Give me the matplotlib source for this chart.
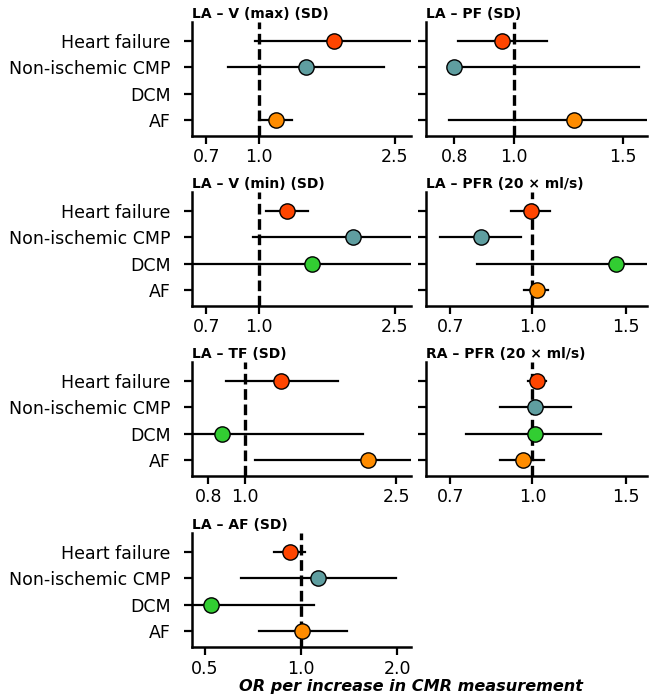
import numpy as np
import matplotlib
matplotlib.use("Agg")
import matplotlib.pyplot as plt
from matplotlib.ticker import FixedLocator, FixedFormatter, NullLocator

nan = np.nan

# --- データ ---
categories = ["Heart failure", "Non-ischemic CMP", "DCM", "AF"]
colors = ["#FF4500", "#5F9EA0", "#32CD32", "#FF8C00"]

titles = ["LA – V (max) (SD)", "LA – PF (SD)",
          "LA – V (min) (SD)", "LA – PFR (20 × ml/s)",
          "LA – TF (SD)", "RA – PFR (20 × ml/s)",
          "LA – AF (SD)"]

# OR, 下限, 上限 (HF, NICM, DCM, AF)
or_vmax = [1.66, 1.37, nan, 1.12]
lo_vmax = [0.97, 0.81, nan, 1.00]
hi_vmax = [3.20, 2.33, nan, 1.25]

or_pf = [0.955, 0.80, nan, 1.25]
lo_pf = [0.81, 0.79, nan, 0.785]
hi_pf = [1.13, 1.59, nan, 1.90]

or_vmin = [1.21, 1.89, 1.43, nan]
lo_vmin = [1.05, 0.96, 0.50, nan]
hi_vmin = [1.39, 3.50, 3.50, nan]

or_la_pfr = [0.995, 0.80, 1.44, 1.02]
lo_la_pfr = [0.91, 0.67, 0.785, 0.966]
hi_la_pfr = [1.08, 0.95, 2.00, 1.07]

or_tf = [1.24, nan, 0.87, 2.11]
lo_tf = [0.89, nan, 0.60, 1.06]
hi_tf = [1.75, nan, 2.04, 4.00]

or_ra_pfr = [1.02, 1.01, 1.01, 0.96]
lo_ra_pfr = [0.98, 0.87, 0.75, 0.87]
hi_ra_pfr = [1.06, 1.18, 1.35, 1.05]

or_af = [0.92, 1.13, 0.52, 1.01]
lo_af = [0.82, 0.65, 0.40, 0.74]
hi_af = [1.03, 1.99, 1.10, 1.39]

ors = [or_vmax, or_pf, or_vmin, or_la_pfr, or_tf, or_ra_pfr, or_af]
los = [lo_vmax, lo_pf, lo_vmin, lo_la_pfr, lo_tf, lo_ra_pfr, lo_af]
his = [hi_vmax, hi_pf, hi_vmin, hi_la_pfr, hi_tf, hi_ra_pfr, hi_af]

xticks = [[0.7, 1.0, 2.5], [0.8, 1.0, 1.5],
          [0.7, 1.0, 2.5], [0.7, 1.0, 1.5],
          [0.8, 1.0, 2.5], [0.7, 1.0, 1.5],
          [0.5, 1.0, 2.0]]
xlims = [(0.636, 2.79), (0.72, 1.64),
         (0.636, 2.79), (0.63, 1.645),
         (0.725, 2.73), (0.63, 1.645),
         (0.455, 2.21)]

# --- 配置 ---
W, H = 655, 700
fig = plt.figure(figsize=(W / 100, H / 100), dpi=100)
col_left = [192, 426]
col_w = [219, 221]
row_bottom = [136, 306, 476, 647]
row_h = 114

y = np.arange(len(categories))

for i in range(7):
    r, c = divmod(i, 2)
    ax = fig.add_axes([col_left[c] / W, 1 - row_bottom[r] / H, col_w[c] / W, row_h / H])
    ax.set_xscale("log")
    ax.axvline(1.0, color="black", ls=(0, (3.2, 1.4)), lw=2.4, zorder=1)
    for j in range(len(categories)):
        if np.isnan(ors[i][j]):
            continue
        ax.plot([los[i][j], his[i][j]], [y[j], y[j]], color="black", lw=1.6, zorder=2)
        ax.plot(ors[i][j], y[j], "o", ms=11, mfc=colors[j], mec="black", mew=1.0, zorder=3)
    ax.set_xlim(*xlims[i])
    ax.set_ylim(3.6, -0.72)
    ax.xaxis.set_major_locator(FixedLocator(xticks[i]))
    ax.xaxis.set_major_formatter(FixedFormatter([f"{t:.1f}" for t in xticks[i]]))
    ax.xaxis.set_minor_locator(NullLocator())
    ax.set_yticks(y)
    if c == 0:
        ax.set_yticklabels(categories)
    else:
        ax.set_yticklabels([])
    for s in ["top", "right"]:
        ax.spines[s].set_visible(False)
    for s in ["left", "bottom"]:
        ax.spines[s].set_linewidth(1.8)
    ax.tick_params(axis="both", length=6, width=1.6, labelsize=12.5)
    ax.tick_params(axis="y", pad=9.5)
    ax.tick_params(axis="x", pad=3)
    ax.set_title(titles[i], loc="left", fontsize=10, fontweight="bold", pad=3)

fig.text(411 / W, 1 - 686 / H, "OR per increase in CMR measurement",
         ha="center", va="center", fontsize=11.6, fontweight="bold", fontstyle="italic")

fig.savefig("out.png", dpi=100)
